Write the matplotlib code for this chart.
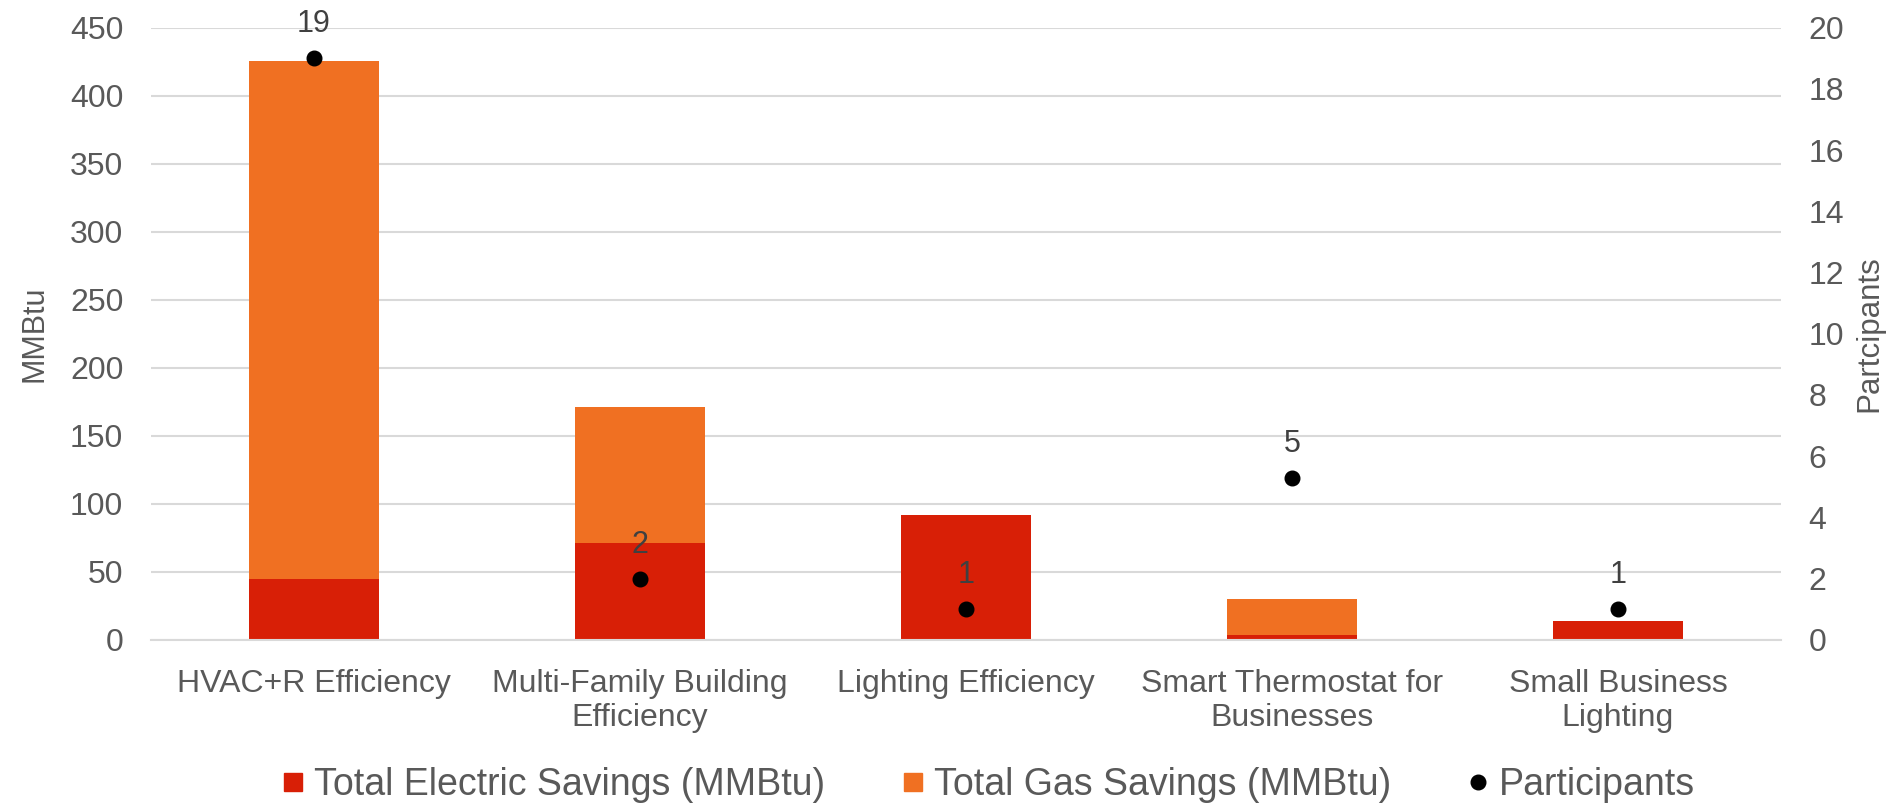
import matplotlib.pyplot as plt
import numpy as np
from matplotlib.lines import Line2D

plt.rcParams["font.family"] = ["Liberation Sans", "DejaVu Sans"]

categories = [
    "HVAC+R Efficiency",
    "Multi-Family Building\nEfficiency",
    "Lighting Efficiency",
    "Smart Thermostat for\nBusinesses",
    "Small Business\nLighting",
]
electric = [44.6, 71.2, 91.7, 3.3, 13.7]
gas = [380.7, 99.8, 0.0, 26.6, 0.0]
participants = [19, 2, 1, 5.3, 1]

RED = "#D81F06"
ORANGE = "#F07022"
GRAY = "#595959"

fig = plt.figure(figsize=(18.93, 8.05), dpi=100)
ax = fig.add_axes([0.0798, 0.2053, 0.861, 0.7603])
x = np.arange(len(categories))

ax.bar(x, electric, width=0.4, color=RED, zorder=2)
ax.bar(x, gas, width=0.4, bottom=electric, color=ORANGE, zorder=2)

ax.set_xlim(-0.5, len(categories) - 0.5)
ax.set_ylim(0, 450)
ax.set_yticks(np.arange(0, 451, 50))
ax.yaxis.grid(True, color="#D9D9D9", linewidth=1.5, zorder=0)
ax.set_axisbelow(True)
for s in ax.spines.values():
    s.set_visible(False)
ax.spines["bottom"].set_visible(True)
ax.spines["bottom"].set_color("#D9D9D9")
ax.spines["bottom"].set_linewidth(1.5)
ax.tick_params(axis="both", length=0, labelsize=23, colors=GRAY)
ax.tick_params(axis="y", pad=20)
ax.tick_params(axis="x", pad=21)
ax.set_xticks(x)
ax.set_xticklabels(categories, linespacing=1.17)
ax.set_ylabel("MMBtu", fontsize=22, color=GRAY, labelpad=15)

ax2 = ax.twinx()
ax2.set_ylim(0, 20)
ax2.set_yticks(np.arange(0, 21, 2))
for s in ax2.spines.values():
    s.set_visible(False)
ax2.tick_params(axis="y", length=0, labelsize=23, colors=GRAY, pad=20)
# the source chart spells it this way
ax2.set_ylabel("Partcipants", fontsize=22.5, color=GRAY, labelpad=7)
ax2.plot(x, participants, linestyle="none", marker="o", markersize=10.5, color="black", zorder=3)
for xi, p in zip(x, participants):
    ax2.annotate(f"{p:.0f}", (xi, p), xytext=(0, 24.5), textcoords="offset points",
                 ha="center", va="center", fontsize=22, color="#404040")

# legend: bar entries together, participants entry on its own a bit further right
bar_handles = [
    Line2D([], [], linestyle="none", marker="s", markersize=13.5, color=RED,
           label="Total Electric Savings (MMBtu)"),
    Line2D([], [], linestyle="none", marker="s", markersize=13.5, color=ORANGE,
           label="Total Gas Savings (MMBtu)"),
]
dot_handle = [Line2D([], [], linestyle="none", marker="o", markersize=10.5, color="black",
                     label="Participants")]
common = dict(frameon=False, fontsize=27, labelcolor=GRAY, handlelength=0.5,
              handletextpad=0.3, borderpad=0, borderaxespad=0)
fig.legend(handles=bar_handles, loc="center left", bbox_to_anchor=(0.15, 0.025),
           ncol=2, columnspacing=2.1, **common)
fig.legend(handles=dot_handle, loc="center left", bbox_to_anchor=(0.776, 0.025), **common)

fig.savefig("out.png", dpi=100)
